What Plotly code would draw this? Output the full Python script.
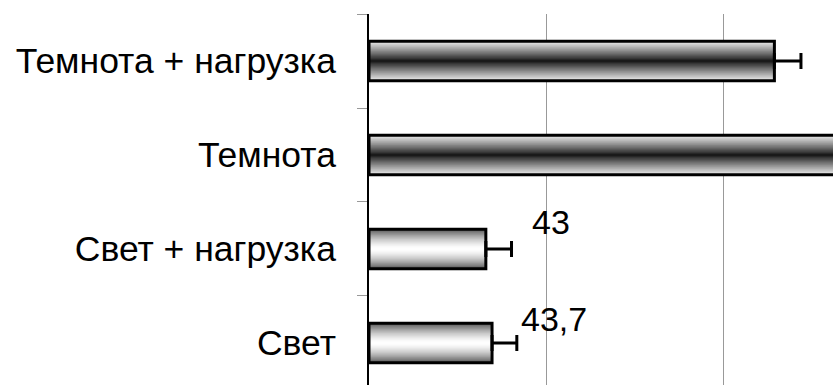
import plotly.graph_objects as go

# ---- data ----
categories = ["Свет", "Свет + нагрузка", "Темнота", "Темнота + нагрузка"]
values = [69.5, 66, 290, 229]
errors = [14, 14.5, 15, 15]
value_labels = ["43,7", "43", "", ""]
shade = ["light", "light", "dark", "dark"]

# ---- style ----
BAR_W = 0.42
N_LAYERS = 28
FONT = "Arial, 'Liberation Sans', sans-serif"
label_shift = {"43,7": (2, 24), "43": (18, 27)}

fig = go.Figure()

for k in range(N_LAYERS):
    d = 1 - k / N_LAYERS  # 1 at the bar edge -> small at the centre
    cols = []
    for s in shade:
        if s == "dark":
            g = 15 + 220 * d ** 0.9
        else:
            g = 255 - 165 * d ** 1.6
        g = int(round(g))
        cols.append(f"rgb({g},{g},{g})")
    fig.add_trace(go.Bar(
        y=categories, x=values, orientation="h", width=BAR_W * d,
        marker=dict(color=cols, line=dict(width=0)),
        hoverinfo="skip", showlegend=False,
    ))

fig.add_trace(go.Bar(
    y=categories, x=values, orientation="h", width=BAR_W,
    marker=dict(color="rgba(0,0,0,0)", line=dict(color="black", width=3)),
    error_x=dict(type="data", symmetric=False, array=errors,
                 arrayminus=[0] * len(errors),
                 color="black", thickness=3, width=8),
    showlegend=False,
))

for cat, v, e, lab in zip(categories, values, errors, value_labels):
    if not lab:
        continue
    xs, ys = label_shift[lab]
    fig.add_annotation(
        x=v + e, y=cat, xref="x", yref="y", text=lab, showarrow=False,
        xanchor="left", yanchor="middle", xshift=xs, yshift=ys,
        font=dict(family=FONT, size=34, color="black"),
    )

fig.update_layout(
    width=833, height=385,
    margin=dict(l=369, r=0, t=14, b=0),
    barmode="overlay",
    plot_bgcolor="white", paper_bgcolor="white",
    font=dict(family=FONT, size=32, color="black"),
    xaxis=dict(range=[0, 262.1], dtick=100, showgrid=True, gridcolor="#999999",
               gridwidth=1, showticklabels=False, zeroline=False, showline=False,
               ticks="", automargin=False),
    yaxis=dict(categoryorder="array", categoryarray=categories,
               range=[-0.447, 3.5], showline=True, linecolor="black", linewidth=2,
               ticks="outside", ticklen=10, tickcolor="#999999", tickwidth=1,
               tickson="boundaries", showgrid=False, ticklabelstandoff=24,
               automargin=False,
               tickfont=dict(family=FONT, size=35.5, color="black")),
)

fig.write_html(
    "out.html",
    config={"displayModeBar": False},
    post_script="document.body.style.margin='0';document.body.style.overflow='hidden';",
)
